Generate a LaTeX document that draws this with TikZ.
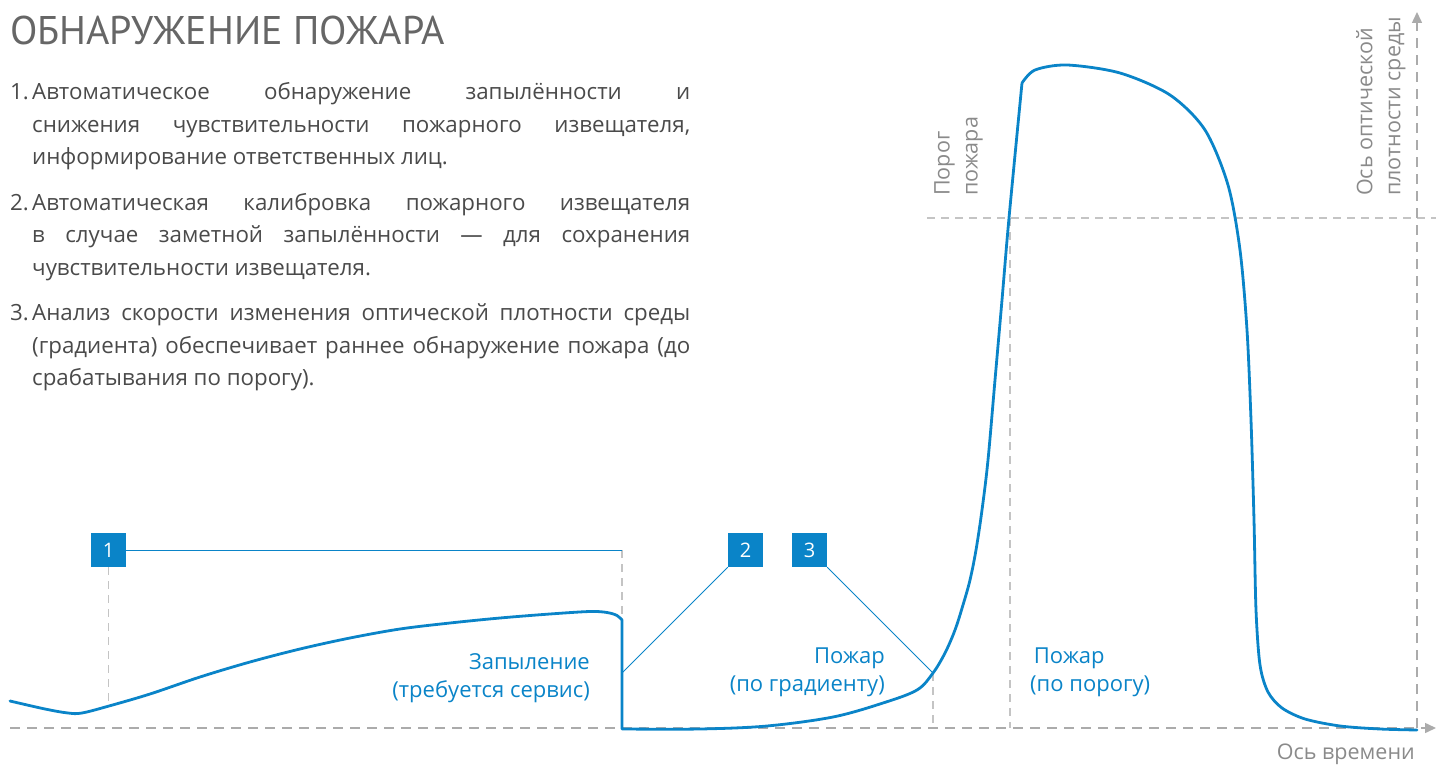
\documentclass[tikz,border=0pt]{standalone}
\usepackage{fontspec}
\setmainfont{PT Sans}
\newfontfamily\lblfont{Open Sans}
\usetikzlibrary{arrows.meta}
\definecolor{cblue}{HTML}{0A84C8}
\definecolor{cguide}{HTML}{C4C4C4}
\definecolor{caxis}{HTML}{ABABAB}
\definecolor{cgraytext}{HTML}{8A8A8A}
\definecolor{ctext}{HTML}{4A4A4A}
\definecolor{ctitle}{HTML}{666666}
\newcommand\myjl[1]{\hbox to 658pt{#1}}
\begin{document}
\begin{tikzpicture}[x=1pt,y=-1pt,
  guide/.style={draw=cguide, line width=1.3pt, dash pattern=on 8pt off 6pt},
  axisline/.style={draw=caxis, line width=1.5pt, dash pattern=on 10pt off 7pt},
  curve/.style={draw=cblue, line width=2.8pt, line join=round, line cap=round},
  leader/.style={draw=cblue, line width=1pt},
  numbox/.style={fill=cblue, text=white, minimum width=35pt, minimum height=34pt, inner sep=0pt, font=\lblfont\fontsize{20}{20}\selectfont},
  bluelbl/.style={text=cblue, font=\lblfont\fontsize{22}{28}\selectfont, inner sep=0pt},
  graylbl/.style={text=cgraytext, font=\lblfont\fontsize{21.5}{28}\selectfont, inner sep=0pt},
]
\useasboundingbox (0,0) rectangle (1436,765);

% title
\node[anchor=base west, inner sep=0pt, text=ctitle, font=\fontsize{40}{40}\selectfont] (title) at (10,45) {ОБНАРУЖЕНИЕ ПОЖАРА};

% list
\node[anchor=base west, inner sep=0pt, text=ctext, font=\lblfont\fontsize{22.3}{32.5}\selectfont] (list) at (10,100) {%
\vtop{\baselineskip=32.5pt\lineskiplimit=-100pt
\hbox{\hbox to 22pt{1.\hfil}\myjl{Автоматическое обнаружение запылённости и}}
\hbox{\hskip22pt\myjl{снижения чувствительности пожарного извещателя,}}
\hbox{\hskip22pt информирование ответственных лиц.}
\vskip 13pt
\hbox{\hbox to 22pt{2.\hfil}\myjl{Автоматическая калибровка пожарного извещателя}}
\hbox{\hskip22pt\myjl{в случае заметной запылённости — для сохранения}}
\hbox{\hskip22pt чувствительности извещателя.}
\vskip 13pt
\hbox{\hbox to 22pt{3.\hfil}\myjl{Анализ скорости изменения оптической плотности среды}}
\hbox{\hskip22pt\myjl{(градиента) обеспечивает раннее обнаружение пожара (до}}
\hbox{\hskip22pt срабатывания по порогу).}}};

% key coordinates
\coordinate (o) at (10,728);
\coordinate (xend) at (1436,728);
\coordinate (ybase) at (1417,728);
\coordinate (yend) at (1417,12);
\coordinate (thl) at (927,218);
\coordinate (thr) at (1436,218);
\coordinate (thx) at (1010,218);
\coordinate (thxb) at (1010,728);
\coordinate (c1) at (622,550);
\coordinate (c1b) at (622,619);
\coordinate (d1) at (108.5,707);
\coordinate (k2) at (622,673);
\coordinate (k3) at (933,673);
\coordinate (k3b) at (933,728);

% guides
\draw[guide] (thl) -- (thr);
\draw[guide] (thx) -- (thxb);
\draw[guide] (c1) -- (c1b);
\draw[guide] (k3) -- (k3b);

% axes
\draw[axisline, -{Triangle[length=11pt,width=10pt]}] (o) -- (xend);
\draw[axisline, -{Triangle[length=11pt,width=10pt]}] (ybase) -- (yend);

% curve
\draw[curve] plot[smooth, tension=0.55] coordinates {(10,701) (45,709) (68,713) (82,713) (109,706) (150,694) (200,677) (250,662) (300,649) (350,638) (400,629) (450,623) (500,618) (550,614) (590,611.5) (607,612.5) (617,615.5) (622,620)}
  -- (622,729)
  plot[smooth, tension=0.55] coordinates {(622,729) (700,729) (767,726) (833,717) (883,703) (917,690) (933,673) (945,653) (955,630) (963,605) (970,580) (976,550) (982,510) (988,460) (995,380) (1002,300) (1009,218) (1022,83)}
  plot[smooth, tension=0.5] coordinates {(1022,83) (1035,70) (1067,65) (1120,73) (1170,95) (1205,130) (1228,185) (1240,250) (1247,330) (1251,420) (1254,520) (1256,610) (1260,665) (1268,692) (1282,708) (1305,719) (1340,726) (1380,729) (1417,730)};

% number boxes and leaders
\node[numbox] (b1) at (108.5,550) {1};
\node[numbox] (b2) at (745.5,550) {2};
\node[numbox] (b3) at (809.5,550) {3};
\draw[leader] (b1.east) -- (c1);
\draw[guide] (b1.south) -- (d1);
\draw[leader] (b2.south west) -- (k2);
\draw[leader] (b3.south east) -- (k3);

% labels
\node[bluelbl, align=right, anchor=east] (l1) at (590,678) {Запыление\\(требуется сервис)};
\node[bluelbl, align=right, anchor=east] (l2) at (885,672) {Пожар\\(по градиенту)};
\node[bluelbl, align=left, anchor=west] (l3) at (1030,672) {\,Пожар\\(по порогу)};
\node[graylbl, anchor=east] (lx) at (1415,754) {Ось времени};
\node[graylbl, rotate=90, align=left, anchor=north west] (lth) at (934,196) {Порог\\пожара};
\node[graylbl, rotate=90, align=left, anchor=north west] (ly) at (1356,196) {Ось оптической\\плотности среды};
\end{tikzpicture}
\end{document}
